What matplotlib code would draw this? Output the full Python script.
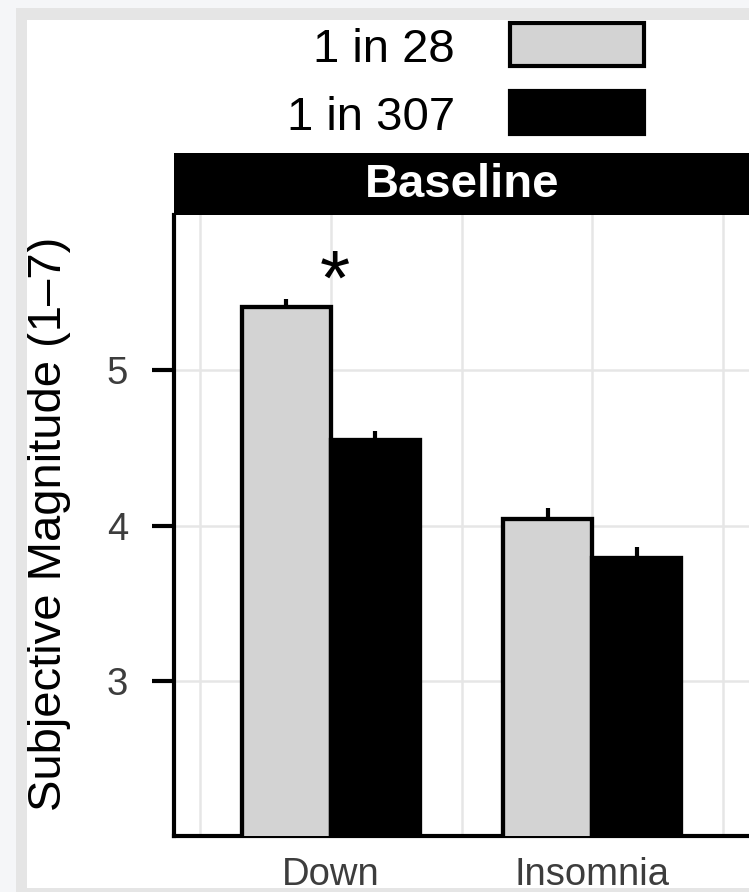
import matplotlib
matplotlib.use("Agg")
import matplotlib.pyplot as plt
from matplotlib.patches import Rectangle
import numpy as np

# ---- data ----
categories = ["Down", "Insomnia"]
series_labels = ["1 in 28", "1 in 307"]
means_28 = [5.41, 4.04]
means_307 = [4.55, 3.79]
se_28 = [0.05, 0.07]
se_307 = [0.06, 0.07]
yticks = [3, 4, 5]
panel_title = "Baseline"
ylabel = "Subjective Magnitude (1\u20137)"
sig_category = 1
sig_value = 5.71

plt.rcParams['font.family'] = ['Liberation Sans', 'DejaVu Sans']

W, H = 749, 892
fig = plt.figure(figsize=(W / 100, H / 100), dpi=100)
fig.patch.set_facecolor('white')

def fx(px):
    return px / W

def fy(py):
    return (H - py) / H

# axes (panel) in pixel layout
pl, pr, pt, pb = 174, 749, 215, 836
ax = fig.add_axes([fx(pl), fy(pb), fx(pr - pl), (pb - pt) / H])
ax.set_facecolor('white')

x = np.arange(1, len(categories) + 1)
bw = 0.34
fill_28 = '#d3d3d3'
fill_307 = '#000000'
lw_edge = 3.1

# error bars (drawn beneath bars so only the upper part shows)
ax.vlines(x - bw / 2, np.array(means_28) - np.array(se_28), np.array(means_28) + np.array(se_28),
          color='black', lw=3.0, zorder=2.5)
ax.vlines(x + bw / 2, np.array(means_307) - np.array(se_307), np.array(means_307) + np.array(se_307),
          color='black', lw=3.0, zorder=2.5)

ax.bar(x - bw / 2, means_28, width=bw, color=fill_28, edgecolor='black', linewidth=lw_edge, zorder=3)
ax.bar(x + bw / 2, means_307, width=bw, color=fill_307, edgecolor='black', linewidth=lw_edge, zorder=3)

# significance marker
fs_star = 56
ax.annotate("*", xy=(sig_category, sig_value), xytext=(3, -0.57 * fs_star), textcoords='offset points',
            ha='center', va='baseline', fontsize=fs_star, color='black', zorder=4)

ax.set_xlim(0.4, 2.6)
ax.set_ylim(2, 6)
ax.set_xticks(x)
ax.set_xticklabels(categories)
ax.set_xticks([0.5, 1.5, 2.5], minor=True)
ax.set_yticks(yticks)
ax.set_yticklabels([str(t) for t in yticks])

ax.set_axisbelow(True)
ax.grid(axis='x', which='both', color='#e6e6e6', lw=1.8)
ax.grid(axis='y', which='major', color='#e6e6e6', lw=1.8)

for s in ['top', 'right']:
    ax.spines[s].set_visible(False)
for s in ['left', 'bottom']:
    ax.spines[s].set_color('black')
    ax.spines[s].set_linewidth(3.0)

ax.tick_params(axis='x', which='both', length=0, pad=15, labelsize=27.5, labelcolor='#3d3d3d')
ax.tick_params(axis='y', which='major', length=16, width=3.0, pad=17, labelsize=27.5,
               labelcolor='#3d3d3d', color='black')

# strip
fig.add_artist(Rectangle((fx(pl), fy(pt)), fx(W - pl) + 0.01, (pt - 153) / H,
                         transform=fig.transFigure, facecolor='black', edgecolor='none', zorder=2))
fig.text(fx((pl + 750) / 2), fy(185), panel_title, color='white', fontsize=34, fontweight='bold',
         ha='center', va='center', zorder=3)

# legend (manual, top)
key_x0, key_x1 = 510, 644
key_h = 43
for lab, col, cy, base in [(series_labels[0], fill_28, 44.5, 62), (series_labels[1], fill_307, 112.5, 130)]:
    fig.add_artist(Rectangle((fx(key_x0), fy(cy + key_h / 2)), fx(key_x1 - key_x0), key_h / H,
                             transform=fig.transFigure, facecolor=col, edgecolor='black',
                             linewidth=3.0, zorder=3))
    fig.text(fx(455), fy(base), lab, fontsize=34, ha='right', va='baseline', color='black', zorder=3)

# y label
fig.text(fx(27), fy(524), ylabel, rotation=90, fontsize=34, ha='left', va='center', color='black')

# screenshot frame
light = '#f5f6f8'
frame = '#e5e5e5'
fig.add_artist(Rectangle((0, 0), fx(16), 1, transform=fig.transFigure, facecolor=light,
                         edgecolor='none', zorder=10))
fig.add_artist(Rectangle((0, fy(8)), 1, 8 / H, transform=fig.transFigure, facecolor=light,
                         edgecolor='none', zorder=10))
fig.add_artist(Rectangle((fx(16), 0), fx(11), fy(8), transform=fig.transFigure, facecolor=frame,
                         edgecolor='none', zorder=10))
fig.add_artist(Rectangle((fx(16), fy(20)), 1, 12 / H, transform=fig.transFigure, facecolor=frame,
                         edgecolor='none', zorder=10))
fig.add_artist(Rectangle((fx(16), 0), 1, 4 / H, transform=fig.transFigure, facecolor=frame,
                         edgecolor='none', zorder=10))

fig.savefig('out.png', dpi=100, facecolor=fig.get_facecolor())
